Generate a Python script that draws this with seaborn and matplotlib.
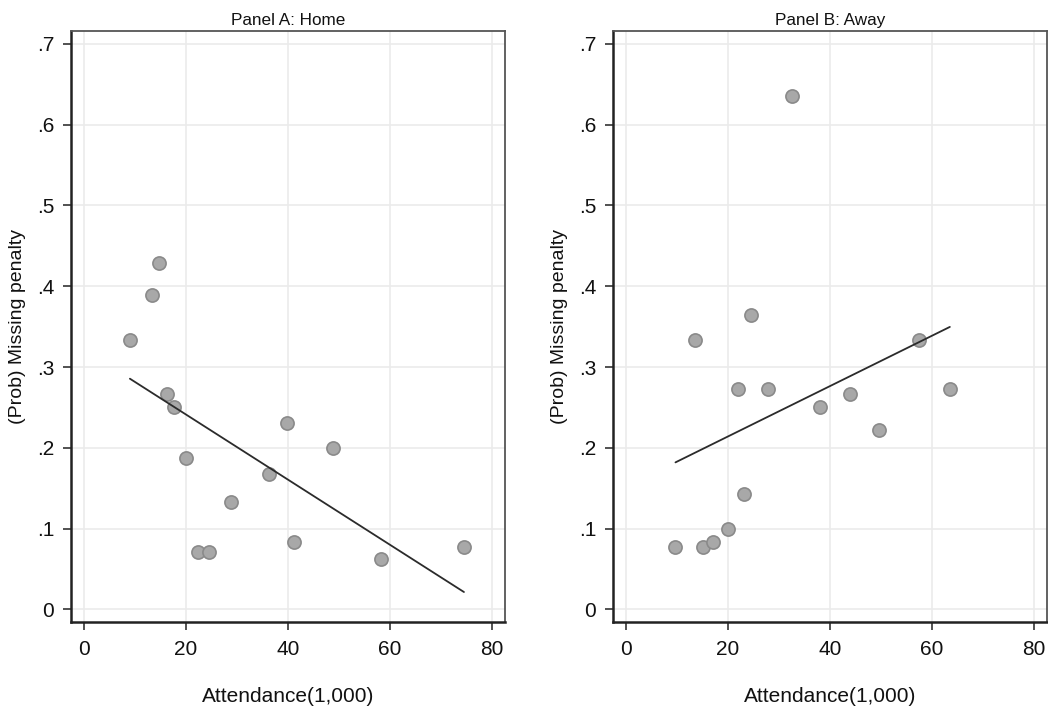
import pandas as pd
import matplotlib.pyplot as plt
import seaborn as sns

# datos
home_att = [9.0, 13.3, 14.8, 16.2, 17.6, 20.0, 22.4, 24.5, 28.8, 36.3, 39.8, 41.1, 48.8, 58.2, 74.5]
home_miss = [0.333, 0.389, 0.429, 0.267, 0.250, 0.1875, 0.071, 0.071, 0.133, 0.167, 0.231, 0.083, 0.200, 0.0625, 0.077]

away_att = [9.7, 13.5, 15.1, 17.1, 20.0, 22.0, 23.1, 24.6, 27.9, 32.5, 38.1, 44.0, 49.7, 57.5, 63.5]
away_miss = [0.077, 0.333, 0.077, 0.083, 0.100, 0.273, 0.143, 0.364, 0.273, 0.636, 0.250, 0.267, 0.222, 0.333, 0.273]

titles = ['Panel A: Home', 'Panel B: Away']
xticks = [0, 20, 40, 60, 80]
yticks = [0, 0.1, 0.2, 0.3, 0.4, 0.5, 0.6, 0.7]
ytick_labels = ['0', '.1', '.2', '.3', '.4', '.5', '.6', '.7']

df_home = pd.DataFrame({'att': home_att, 'miss': home_miss})
df_away = pd.DataFrame({'att': away_att, 'miss': away_miss})

sns.set_style('white')
plt.rcParams['font.family'] = ['Liberation Sans', 'DejaVu Sans']

fig = plt.figure(figsize=(10.48, 7.10), dpi=100)
W, H = 1048, 710
ax1 = fig.add_axes([71 / W, (H - 622) / H, 434 / W, 591 / H])
ax2 = fig.add_axes([613 / W, (H - 622) / H, 434 / W, 591 / H])

for ax, df, title in zip([ax1, ax2], [df_home, df_away], titles):
    ax.set_axisbelow(True)
    ax.grid(True, color='#ebebeb', linewidth=1.2)
    sns.regplot(x='att', y='miss', data=df, ax=ax, ci=None,
                scatter_kws={'s': 90, 'color': '#a8a8a8', 'edgecolor': '#8a8a8a',
                             'linewidths': 1.2, 'alpha': 1, 'zorder': 3},
                line_kws={'color': '#2b2b2b', 'linewidth': 1.3, 'zorder': 4})
    ax.set_xlim(-2.55, 82.55)
    ax.set_ylim(-0.0157, 0.716)
    ax.set_xticks(xticks)
    ax.set_yticks(yticks)
    ax.set_yticklabels(ytick_labels)
    ax.tick_params(axis='both', which='both', direction='out', length=6, width=1.2,
                   color='#333333', labelsize=15, labelcolor='#111111',
                   pad=6, left=True, bottom=True)
    ax.tick_params(axis='x', pad=7)
    ax.set_xlabel('Attendance(1,000)', fontsize=15, labelpad=20, color='#111111')
    ax.set_ylabel('(Prob) Missing penalty', fontsize=14, labelpad=8, color='#111111')
    ax.set_title(title, fontsize=12.3, pad=4, color='#111111')
    for s in ['left', 'bottom']:
        ax.spines[s].set_color('#222222')
        ax.spines[s].set_linewidth(1.8)
    for s in ['top', 'right']:
        ax.spines[s].set_color('#555555')
        ax.spines[s].set_linewidth(1.3)

fig.savefig('out.png', dpi=100)
